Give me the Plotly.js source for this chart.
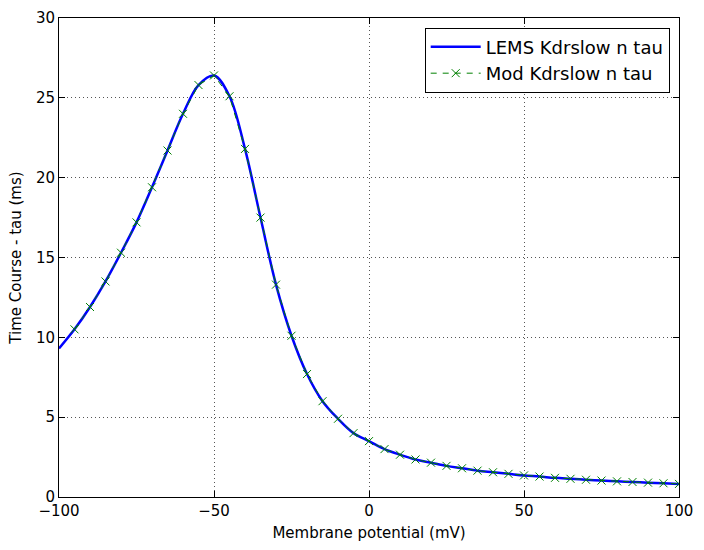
<!DOCTYPE html>
<html>
<head>
<script src="https://cdn.plot.ly/plotly-3.0.1.min.js"></script>
<style>body{margin:0;background:#fff}</style>
</head>
<body>
<div id="chart" style="width:704px;height:550px"></div>
<script>
// membrane potential (mV) and tau (ms)
const voltage = [-100,-95,-90,-85,-80,-75,-70,-65,-60,-55,-50,-45,-40,-35,-30,-25,-20,-15,-10,-5,0,5,10,15,20,25,30,35,40,45,50,55,60,65,70,75,80,85,90,95,100];
const tauLems = [9.3,10.5,11.9,13.5,15.3,17.2,19.4,21.7,24.0,25.8,26.4,25.1,21.8,17.5,13.3,10.1,7.7,6.0,4.9,4.0,3.5,3.0,2.65,2.35,2.15,1.95,1.8,1.65,1.55,1.45,1.35,1.28,1.2,1.14,1.08,1.03,0.98,0.94,0.9,0.86,0.82];
const tauMod = tauLems.slice();

const axisBase = {
    showline: true, mirror: 'ticks', linecolor: '#000', linewidth: 1,
    ticks: 'inside', ticklen: 6, tickcolor: '#000',
    showgrid: true, gridcolor: '#555', griddash: '1px,3px', gridwidth: 0.8,
    zeroline: false, tickfont: {size: 15, color: '#000'}
};

Plotly.newPlot('chart', [
    { x: voltage, y: tauLems, type: 'scatter', mode: 'lines', name: 'LEMS Kdrslow n tau',
      line: {color: '#0000ff', width: 2.5, shape: 'spline'} },
    { x: voltage.slice(1), y: tauMod.slice(1), type: 'scatter', mode: 'lines+markers', name: 'Mod Kdrslow n tau',
      line: {color: '#008000', width: 1, dash: '6px,6px'},
      marker: {symbol: 'x-thin-open', size: 8, color: '#008000', line: {color: '#008000', width: 1}} }
], {
    width: 704, height: 550,
    font: {family: 'DejaVu Sans', color: '#000'},
    margin: {l: 59, r: 25, t: 18, b: 53},
    paper_bgcolor: '#fff', plot_bgcolor: '#fff',
    xaxis: {...axisBase, range: [-100, 100], dtick: 50,
        title: {text: 'Membrane potential (mV)', font: {size: 15}, standoff: 8}},
    yaxis: {...axisBase, range: [0, 30], dtick: 5,
        title: {text: 'Time Course - tau (ms)', font: {size: 15}, standoff: 10}},
    legend: {x: 0.985, y: 0.98, xanchor: 'right', yanchor: 'top',
        bordercolor: '#000', borderwidth: 1, bgcolor: '#fff',
        itemwidth: 50, font: {size: 18}, tracegroupgap: 4},
    showlegend: true
}, {displayModeBar: false});
</script>
</body>
</html>
